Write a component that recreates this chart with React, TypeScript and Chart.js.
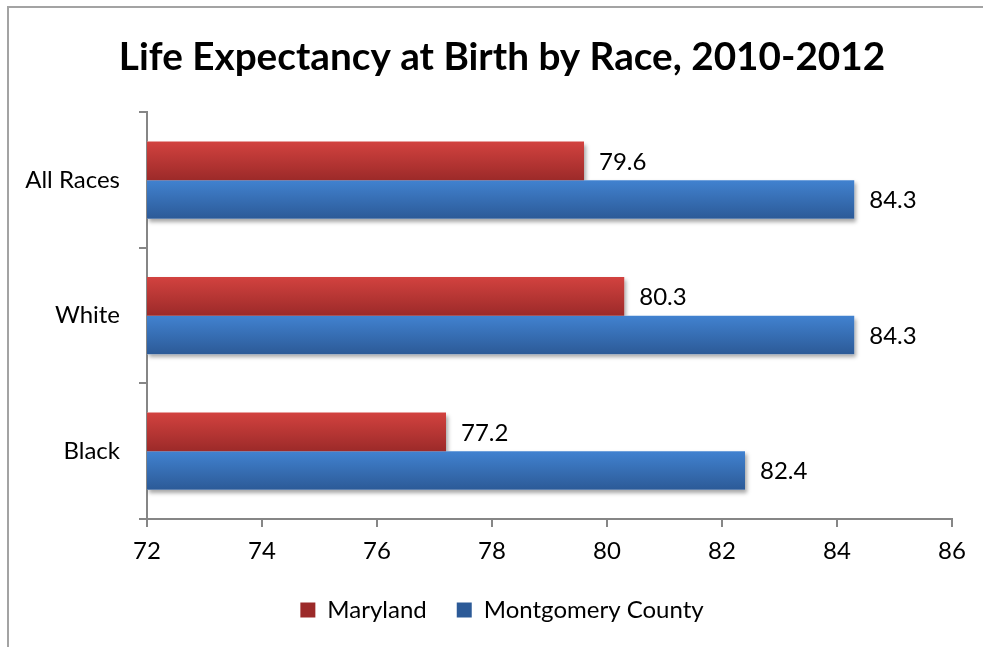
import React, { useEffect, useRef } from "react";
import { Chart, registerables } from "chart.js";

Chart.register(...registerables);

const categories = ["All Races", "White", "Black"];
const marylandValues = [79.6, 80.3, 77.2];
const montgomeryValues = [84.3, 84.3, 82.4];
const seriesNames = ["Maryland", "Montgomery County"];
const xMin = 72;
const xMax = 86;
const xStep = 2;
const titleText = "Life Expectancy at Birth by Race, 2010-2012";

const FONT = "Lato, 'Open Sans', sans-serif";
const CAT_PCT = 0.57;

const palettes = [
  { top: "#d2423f", bottom: "#9c2a29", flat: "#c0393a" },
  { top: "#4182d0", bottom: "#2c5a97", flat: "#3a70b8" },
];

function barFill(context: any) {
  const pal = palettes[context.datasetIndex] || palettes[0];
  if (context.type !== "data") return pal.flat;
  const chart = context.chart;
  const y = chart.scales && chart.scales.y;
  if (!y || !isFinite(y.top) || y.bottom <= y.top) return pal.flat;
  const n = categories.length;
  const cat = (y.bottom - y.top) / n;
  const group = cat * CAT_PCT;
  const barH = group / 2;
  const center = y.getPixelForValue(context.dataIndex);
  const top = center - group / 2 + barH * context.datasetIndex;
  const bottom = top + barH;
  const g = chart.ctx.createLinearGradient(0, top, 0, bottom);
  g.addColorStop(0, pal.top);
  g.addColorStop(1, pal.bottom);
  return g;
}

const shadowPlugin = {
  id: "barShadow",
  beforeDatasetsDraw(chart: any) {
    const ctx = chart.ctx;
    const area = chart.chartArea;
    ctx.save();
    ctx.beginPath();
    ctx.rect(area.left, area.top - 10, area.right - area.left + 20, area.bottom - area.top + 20);
    ctx.clip();
    ctx.shadowColor = "rgba(0,0,0,0.35)";
    ctx.shadowBlur = 4;
    ctx.shadowOffsetX = 2;
    ctx.shadowOffsetY = 3;
    ctx.fillStyle = "#ffffff";
    chart.data.datasets.forEach((_: any, di: number) => {
      const meta = chart.getDatasetMeta(di);
      meta.data.forEach((el: any) => {
        const p = el.getProps(["x", "y", "base", "height"], true);
        const left = Math.max(Math.min(p.x, p.base), area.left);
        const right = Math.max(p.x, p.base);
        ctx.fillRect(left, p.y - p.height / 2, right - left, p.height);
      });
    });
    ctx.restore();
  },
};

const valueLabelPlugin = {
  id: "valueLabels",
  afterDatasetsDraw(chart: any) {
    const ctx = chart.ctx;
    ctx.save();
    ctx.font = `24px ${FONT}`;
    ctx.fillStyle = "#000000";
    ctx.textAlign = "left";
    ctx.textBaseline = "middle";
    chart.data.datasets.forEach((ds: any, di: number) => {
      const meta = chart.getDatasetMeta(di);
      meta.data.forEach((el: any, i: number) => {
        const p = el.getProps(["x", "y"], true);
        ctx.fillText(Number(ds.data[i]).toFixed(1), p.x + 15, p.y + 1);
      });
    });
    ctx.restore();
  },
};

export default function App() {
  const canvasRef = useRef<HTMLCanvasElement | null>(null);

  useEffect(() => {
    if (!canvasRef.current) return;
    const axisColor = "#868686";
    const chart = new Chart(canvasRef.current, {
      type: "bar",
      data: {
        labels: categories,
        datasets: [
          {
            label: seriesNames[0],
            data: marylandValues,
            backgroundColor: barFill,
            borderWidth: 0,
            categoryPercentage: CAT_PCT,
            barPercentage: 1,
          },
          {
            label: seriesNames[1],
            data: montgomeryValues,
            backgroundColor: barFill,
            borderWidth: 0,
            categoryPercentage: CAT_PCT,
            barPercentage: 1,
          },
        ],
      },
      options: {
        indexAxis: "y",
        animation: false,
        responsive: true,
        maintainAspectRatio: false,
        layout: { padding: { left: 10, right: 10, top: 0, bottom: 15 } },
        scales: {
          x: {
            min: xMin,
            max: xMax,
            ticks: {
              stepSize: xStep,
              color: "#000000",
              font: { family: FONT, size: 24 },
              padding: 10,
            },
            grid: {
              drawOnChartArea: false,
              drawTicks: true,
              tickLength: 8,
              color: axisColor,
              lineWidth: 2,
            },
            border: { display: true, color: axisColor, width: 2 },
            afterFit(scale: any) {
              scale.height = 49;
            },
          },
          y: {
            ticks: {
              color: "#000000",
              font: { family: FONT, size: 24 },
              padding: 19,
            },
            grid: {
              drawOnChartArea: false,
              drawTicks: true,
              tickLength: 8,
              offset: true,
              color: axisColor,
              lineWidth: 2,
            },
            border: { display: true, color: axisColor, width: 2 },
            afterFit(scale: any) {
              scale.width = 137;
            },
          },
          spacer: {
            type: "linear",
            position: "right",
            display: true,
            grid: { display: false, drawTicks: false },
            ticks: { display: false },
            border: { display: false },
            afterFit(scale: any) {
              scale.width = 42;
            },
          },
        },
        plugins: {
          title: {
            display: true,
            text: titleText,
            color: "#000000",
            font: { family: FONT, size: 38.7, weight: "bold" },
            padding: { top: 34, bottom: 32 },
          },
          legend: {
            display: true,
            position: "bottom",
            labels: {
              color: "#000000",
              font: { family: FONT, size: 24 },
              boxWidth: 15,
              boxHeight: 15,
              padding: 30,
            },
          },
          tooltip: { enabled: false },
        },
      },
      plugins: [shadowPlugin, valueLabelPlugin],
    });
    return () => chart.destroy();
  }, []);

  return (
    <div
      style={{
        position: "fixed",
        left: 0,
        top: 0,
        width: 983,
        height: 647,
        overflow: "hidden",
        background: "#ffffff",
      }}
    >
      <div
        style={{
          position: "absolute",
          left: 7,
          top: 6,
          width: 1400,
          height: 1400,
          borderTop: "2px solid #a3a3a3",
          borderLeft: "2px solid #a3a3a3",
        }}
      />
      <div style={{ position: "absolute", left: 0, top: 0, width: 1004, height: 647 }}>
        <canvas ref={canvasRef} />
      </div>
    </div>
  );
}
